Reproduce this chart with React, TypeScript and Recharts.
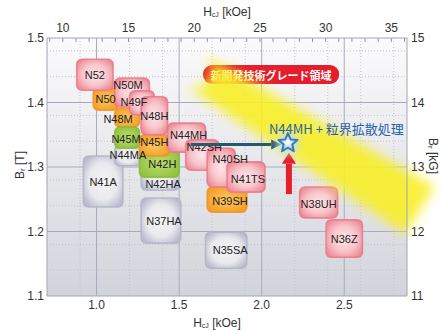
import React from "react";
import {
	CartesianGrid,
	ReferenceArea,
	ReferenceLine,
	Scatter,
	ScatterChart,
	XAxis,
	YAxis,
} from "recharts";

// 磁石グレード（描画順：下から上へ）
const GRADE_NAMES = [
	"N41A", "N44MA", "N42HA", "N37HA", "N35SA",
	"N48M", "N45M", "N42H", "N50", "N45H", "N39SH",
	"N52", "N50M", "N49F", "N48H", "N44MH", "N42SH", "N40SH", "N41TS", "N38UH", "N36Z",
];
const GRADE_GROUPS = [
	"grey", "grey", "grey", "grey", "grey",
	"orange", "green", "green", "orange", "orange", "orange",
	"pink", "pink", "pink", "pink", "pink", "pink", "pink", "pink", "pink", "pink",
];
// HcJ [MA/m]
const HCJ_LOW = [0.92, 1.11, 1.27, 1.27, 1.66, 1.11, 1.11, 1.26, 0.98, 1.26, 1.67, 0.88, 1.11, 1.2, 1.27, 1.43, 1.54, 1.67, 1.79, 2.23, 2.39];
const HCJ_HIGH = [1.16, 1.27, 1.5, 1.51, 1.91, 1.26, 1.26, 1.5, 1.13, 1.44, 1.91, 1.1, 1.32, 1.35, 1.43, 1.66, 1.74, 1.84, 2.02, 2.46, 2.61];
// Br [T]
const BR_LOW = [1.238, 1.302, 1.264, 1.182, 1.143, 1.362, 1.329, 1.284, 1.388, 1.317, 1.23, 1.419, 1.393, 1.381, 1.35, 1.323, 1.295, 1.269, 1.261, 1.221, 1.16];
const BR_HIGH = [1.317, 1.334, 1.326, 1.252, 1.199, 1.391, 1.362, 1.329, 1.422, 1.35, 1.269, 1.467, 1.438, 1.418, 1.409, 1.368, 1.342, 1.329, 1.308, 1.269, 1.218];

// 新開発グレード（N44MH + 粒界拡散処理）
const NEW_GRADE = [{ hcj: 2.159, br: 1.337 }];
const NEW_GRADE_LABEL = "N44MH + 粒界拡散処理";
const REGION_LABEL = "新開発技術グレード領域";
const REGION_BADGE_HCJ = [1.645, 2.469];
const REGION_BADGE_BR = [1.4287, 1.4581];
const BAND_HCJ = [1.59, 2.959];
const BAND_BR = [1.4504, 1.2333];
const ARROW_H_HCJ = [1.57, 2.118];
const ARROW_H_BR = 1.335;
const ARROW_V_HCJ = 2.165;
const ARROW_V_BR = [1.258, 1.322];

// 軸目盛
const BOTTOM_TICKS = [1.0, 1.5, 2.0, 2.5];
const TOP_TICKS_KOE = [9, 10, 11, 12, 13, 14, 15, 16, 17, 18, 19, 20, 21, 22, 23, 24, 25, 26, 27, 28, 29, 30, 31, 32, 33, 34, 35, 36];
const LEFT_TICKS = [1.1, 1.2, 1.3, 1.4, 1.5];
const RIGHT_TICKS = [11, 12, 13, 14, 15];
const MINOR_HCJ = [0.8, 0.9, 1.1, 1.2, 1.3, 1.4, 1.6, 1.7, 1.8, 1.9, 2.1, 2.2, 2.3, 2.4, 2.6, 2.7, 2.8];
const MINOR_BR = [1.12, 1.14, 1.16, 1.18, 1.22, 1.24, 1.26, 1.28, 1.32, 1.34, 1.36, 1.38, 1.42, 1.44, 1.46, 1.48];
const MAJOR_HCJ = [1.0, 1.5, 2.0, 2.5];
const MAJOR_BR = [1.2, 1.3, 1.4];

const HCJ_DOMAIN: [number, number] = [0.7, 2.88];
const BR_DOMAIN: [number, number] = [1.1, 1.5];
const KOE_PER_MAM = 4 * Math.PI;

// ラベル位置の微調整 (px)
const LABEL_SHIFT: Record<string, [number, number]> = {
	N50M: [-4, -8],
	N49F: [-8, -1],
	N48M: [-9, 1],
	N45M: [-1, 1],
	N45H: [0, -3],
	N42H: [3, 1],
	N42HA: [3, 14],
	N37HA: [3, 0],
	N44MH: [2, -3],
	N42SH: [2, -8],
	N40SH: [9, -9],
	N41TS: [2, 2],
	N39SH: [3, 1],
	N38UH: [0, 2],
	N35SA: [4, 0],
};

const STROKES: Record<string, string> = {
	pink: "#e97888",
	orange: "#ee9424",
	green: "#8ab83a",
	grey: "#b2b4c4",
};

const grades = GRADE_NAMES.map((name, i) => ({
	name,
	group: GRADE_GROUPS[i],
	x1: HCJ_LOW[i],
	x2: HCJ_HIGH[i],
	y1: BR_LOW[i],
	y2: BR_HIGH[i],
}));

const FONT = "'Liberation Sans', Arial, sans-serif";
const CJK = "'Noto Sans CJK JP', sans-serif";

const StarMark = (props: any) => {
	const { cx, cy } = props;
	if (cx == null || cy == null) return null;
	const pts: string[] = [];
	for (let k = 0; k < 10; k++) {
		const r = k % 2 === 0 ? 10 : 4.6;
		const a = -Math.PI / 2 + (k * Math.PI) / 5;
		pts.push(`${cx + r * Math.cos(a)},${cy + r * Math.sin(a)}`);
	}
	return (
		<g>
			<circle cx={cx} cy={cy} r={12} fill="#bfe0f8" opacity={0.7} filter="url(#soft)" />
			<polygon points={pts.join(" ")} fill="url(#starFill)" stroke="#3b78bd" strokeWidth={2} strokeLinejoin="round" />
			<text x={cx - 19} y={cy - 15} fill="#1f63ad" fontSize={13} fontFamily={CJK} dominantBaseline="central">
				{NEW_GRADE_LABEL}
			</text>
		</g>
	);
};

const Band = (props: any) => {
	const { x1, y1, x2, y2 } = props;
	if (x1 == null) return null;
	const dx = x2 - x1;
	const dy = y2 - y1;
	const len = Math.hypot(dx, dy);
	const nx = -dy / len;
	const ny = dx / len;
	const w1 = 18;
	const w2 = 28;
	const d = [
		`M${x1 + nx * w1},${y1 + ny * w1}`,
		`L${x2 + nx * w2},${y2 + ny * w2}`,
		`L${x2 - nx * w2},${y2 - ny * w2}`,
		`L${x1 - nx * w1},${y1 - ny * w1}`,
		`A${w1},${w1} 0 0 1 ${x1 + nx * w1},${y1 + ny * w1}`,
		"Z",
	].join(" ");
	return <path d={d} fill="#f8ef2a" opacity={0.92} filter="url(#bandBlur)" />;
};

const Arrow = (props: any) => {
	const { x1, y1, x2, y2, color, width, head, headLen } = props;
	if (x1 == null) return null;
	const dx = x2 - x1;
	const dy = y2 - y1;
	const len = Math.hypot(dx, dy);
	const ux = dx / len;
	const uy = dy / len;
	const bx = x2 - ux * headLen;
	const by = y2 - uy * headLen;
	return (
		<g>
			<line x1={x1} y1={y1} x2={bx} y2={by} stroke={color} strokeWidth={width} />
			<polygon
				points={`${x2},${y2} ${bx - uy * head},${by + ux * head} ${bx + uy * head},${by - ux * head}`}
				fill={color}
			/>
		</g>
	);
};

// 上軸 (kOe) の目盛：下軸のスケールで位置を決め、5 kOe毎に数値を表示
const TopTick = (koe: number) => (p: any) => {
	const { x1, y1, y2 } = p;
	if (x1 == null) return null;
	return (
		<g>
			<line x1={x1} y1={y1} x2={x1} y2={y2} stroke="#8e8fa6" strokeWidth={1} />
			{koe % 5 === 0 && (
				<text x={x1} y={y1 - 10} textAnchor="middle" dominantBaseline="central" fontSize={12} fontFamily={FONT} fill="#333">
					{koe}
				</text>
			)}
		</g>
	);
};

const boxShape = (group: string) => (p: any) => {
	if (p.x == null) return null;
	return (
		<rect
			x={p.x}
			y={p.y}
			width={p.width}
			height={p.height}
			rx={5}
			ry={5}
			fill={`url(#g-${group})`}
			stroke={STROKES[group]}
			strokeOpacity={0.85}
			strokeWidth={1.6}
		/>
	);
};

const boxLabel = (name: string) => (p: any) => {
	const vb = p.viewBox;
	if (!vb) return null;
	const [sx, sy] = LABEL_SHIFT[name] ?? [0, 0];
	return (
		<text
			x={vb.x + vb.width / 2 + sx}
			y={vb.y + vb.height / 2 + sy}
			textAnchor="middle"
			dominantBaseline="central"
			fontSize={11}
			fontFamily={FONT}
			fill="#222"
		>
			{name}
		</text>
	);
};

const HcjTitle = ({ x, y }: { x: number; y: number }) => (
	<text x={x} y={y} textAnchor="middle" dominantBaseline="central" fontSize={12} fontFamily={FONT} fill="#333">
		H<tspan fontSize={7} dy={2}>cJ</tspan>
		<tspan dy={-2}> [kOe]</tspan>
	</text>
);

export default function App() {
	return (
		<div style={{ position: "absolute", left: 0, top: 0, width: 442, height: 331, background: "#fff" }}>
			<ScatterChart width={442} height={331} margin={{ top: 0, right: 0, bottom: 0, left: 0 }}>
				<defs>
					<linearGradient id="bg" x1="0" y1="0" x2="0" y2="1">
						<stop offset="0%" stopColor="#fbfbfc" />
						<stop offset="100%" stopColor="#d3d4db" />
					</linearGradient>
					<radialGradient id="g-pink" cx="50%" cy="50%" r="60%">
						<stop offset="0%" stopColor="#fde6e9" />
						<stop offset="55%" stopColor="#f8c6cc" />
						<stop offset="100%" stopColor="#ee8b98" />
					</radialGradient>
					<radialGradient id="g-orange" cx="50%" cy="50%" r="60%">
						<stop offset="0%" stopColor="#fcc860" />
						<stop offset="100%" stopColor="#f39c26" />
					</radialGradient>
					<radialGradient id="g-green" cx="50%" cy="50%" r="60%">
						<stop offset="0%" stopColor="#bcdd70" />
						<stop offset="100%" stopColor="#90c23e" />
					</radialGradient>
					<radialGradient id="g-grey" cx="50%" cy="50%" r="60%">
						<stop offset="0%" stopColor="#f4f4f6" />
						<stop offset="60%" stopColor="#e9e9ee" />
						<stop offset="100%" stopColor="#babccb" />
					</radialGradient>
					<radialGradient id="starFill" cx="50%" cy="50%" r="50%">
						<stop offset="0%" stopColor="#ffffff" />
						<stop offset="100%" stopColor="#8cc4ee" />
					</radialGradient>
					<filter id="bandBlur" x="-20%" y="-20%" width="140%" height="140%">
						<feGaussianBlur stdDeviation="6" />
					</filter>
					<filter id="soft" x="-50%" y="-50%" width="200%" height="200%">
						<feGaussianBlur stdDeviation="3" />
					</filter>
				</defs>
				<CartesianGrid
					xAxisId="bottom"
					yAxisId="left"
					fill="url(#bg)"
					fillOpacity={1}
					stroke="#c2c3cf"
					strokeDasharray="1 2"
					verticalValues={MINOR_HCJ}
					horizontalValues={MINOR_BR}
				/>
				<CartesianGrid
					xAxisId="bottom"
					yAxisId="left"
					stroke="#a9aabe"
					verticalValues={MAJOR_HCJ}
					horizontalValues={MAJOR_BR}
				/>
				<XAxis
					xAxisId="bottom"
					type="number"
					dataKey="hcj"
					domain={HCJ_DOMAIN}
					allowDataOverflow
					ticks={BOTTOM_TICKS}
					tickFormatter={(v: number) => v.toFixed(1)}
					tick={{ fontSize: 12, fill: "#333", fontFamily: FONT }}
					tickSize={0}
					tickMargin={4}
					height={35}
					axisLine={{ stroke: "#a3a4ba" }}
					label={(p: any) => <HcjTitle x={217} y={p.viewBox ? p.viewBox.y + 27 : 323} />}
				/>
				<XAxis
					xAxisId="top"
					orientation="top"
					type="number"
					domain={HCJ_DOMAIN}
					allowDataOverflow
					tick={false}
					tickSize={0}
					height={38}
					axisLine={{ stroke: "#a3a4ba" }}
					label={() => <HcjTitle x={227} y={12} />}
				/>
				<YAxis
					yAxisId="left"
					type="number"
					dataKey="br"
					domain={BR_DOMAIN}
					allowDataOverflow
					ticks={LEFT_TICKS}
					tickFormatter={(v: number) => v.toFixed(1)}
					tick={{ fontSize: 12, fill: "#333", fontFamily: FONT }}
					tickSize={0}
					tickMargin={3}
					width={47}
					axisLine={{ stroke: "#a3a4ba" }}
					label={() => (
						<text
							x={20}
							y={165}
							transform="rotate(-90 20 165)"
							textAnchor="middle"
							dominantBaseline="central"
							fontSize={12}
							fontFamily={FONT}
							fill="#333"
						>
							B<tspan fontSize={8} dy={2}>r</tspan>
							<tspan dy={-2}> [T]</tspan>
						</text>
					)}
				/>
				<YAxis
					yAxisId="right"
					orientation="right"
					type="number"
					domain={[11, 15]}
					allowDataOverflow
					ticks={RIGHT_TICKS}
					tick={{ fontSize: 12, fill: "#333", fontFamily: FONT }}
					tickSize={0}
					tickMargin={4}
					width={35}
					axisLine={{ stroke: "#a3a4ba" }}
					label={() => (
						<text
							x={433}
							y={156}
							transform="rotate(90 433 156)"
							textAnchor="middle"
							dominantBaseline="central"
							fontSize={12}
							fontFamily={FONT}
							fill="#333"
						>
							B<tspan fontSize={8} dy={2}>r</tspan>
							<tspan dy={-2}> [kG]</tspan>
						</text>
					)}
				/>

				{/* 上軸 HcJ [kOe] の目盛 */}
				{TOP_TICKS_KOE.map((k) => (
					<ReferenceLine
						key={`koe-${k}`}
						xAxisId="bottom"
						yAxisId="left"
						segment={[
							{ x: k / KOE_PER_MAM, y: BR_DOMAIN[1] },
							{ x: k / KOE_PER_MAM, y: BR_DOMAIN[1] - 0.006 },
						]}
						ifOverflow="visible"
						shape={TopTick(k)}
					/>
				))}

				{/* 新開発技術グレード領域（黄色帯） */}
				<ReferenceLine
					xAxisId="bottom"
					yAxisId="left"
					segment={[
						{ x: BAND_HCJ[0], y: BAND_BR[0] },
						{ x: BAND_HCJ[1], y: BAND_BR[1] },
					]}
					ifOverflow="hidden"
					shape={Band}
				/>

				{grades.map((g) => (
					<ReferenceArea
						key={`box-${g.name}`}
						xAxisId="bottom"
						yAxisId="left"
						x1={g.x1}
						x2={g.x2}
						y1={g.y1}
						y2={g.y2}
						shape={boxShape(g.group)}
					/>
				))}
				{grades.map((g) => (
					<ReferenceArea
						key={`label-${g.name}`}
						xAxisId="bottom"
						yAxisId="left"
						x1={g.x1}
						x2={g.x2}
						y1={g.y1}
						y2={g.y2}
						shape={() => null}
						label={boxLabel(g.name)}
					/>
				))}

				<ReferenceLine
					xAxisId="bottom"
					yAxisId="left"
					segment={[
						{ x: ARROW_H_HCJ[0], y: ARROW_H_BR },
						{ x: ARROW_H_HCJ[1], y: ARROW_H_BR },
					]}
					shape={(p: any) => <Arrow {...p} color="#245a6c" width={3} head={5} headLen={10} />}
				/>
				<ReferenceLine
					xAxisId="bottom"
					yAxisId="left"
					segment={[
						{ x: ARROW_V_HCJ, y: ARROW_V_BR[0] },
						{ x: ARROW_V_HCJ, y: ARROW_V_BR[1] },
					]}
					shape={(p: any) => <Arrow {...p} color="#e5202b" width={6} head={7} headLen={11} />}
				/>

				<ReferenceArea
					xAxisId="bottom"
					yAxisId="left"
					x1={REGION_BADGE_HCJ[0]}
					x2={REGION_BADGE_HCJ[1]}
					y1={REGION_BADGE_BR[0]}
					y2={REGION_BADGE_BR[1]}
					shape={(p: any) =>
						p.x == null ? null : (
							<rect x={p.x} y={p.y} width={p.width} height={p.height} rx={9} ry={9} fill="#e51d2c" />
						)
					}
					label={(p: any) =>
						p.viewBox ? (
							<text
								x={p.viewBox.x + p.viewBox.width / 2}
								y={p.viewBox.y + p.viewBox.height / 2}
								textAnchor="middle"
								dominantBaseline="central"
								fontSize={11}
								fontWeight="bold"
								fontFamily={CJK}
								fill="#fff"
							>
								{REGION_LABEL}
							</text>
						) : null
					}
				/>

				<Scatter
					xAxisId="bottom"
					yAxisId="left"
					data={NEW_GRADE}
					dataKey="br"
					shape={StarMark}
					isAnimationActive={false}
				/>
			</ScatterChart>
		</div>
	);
}
